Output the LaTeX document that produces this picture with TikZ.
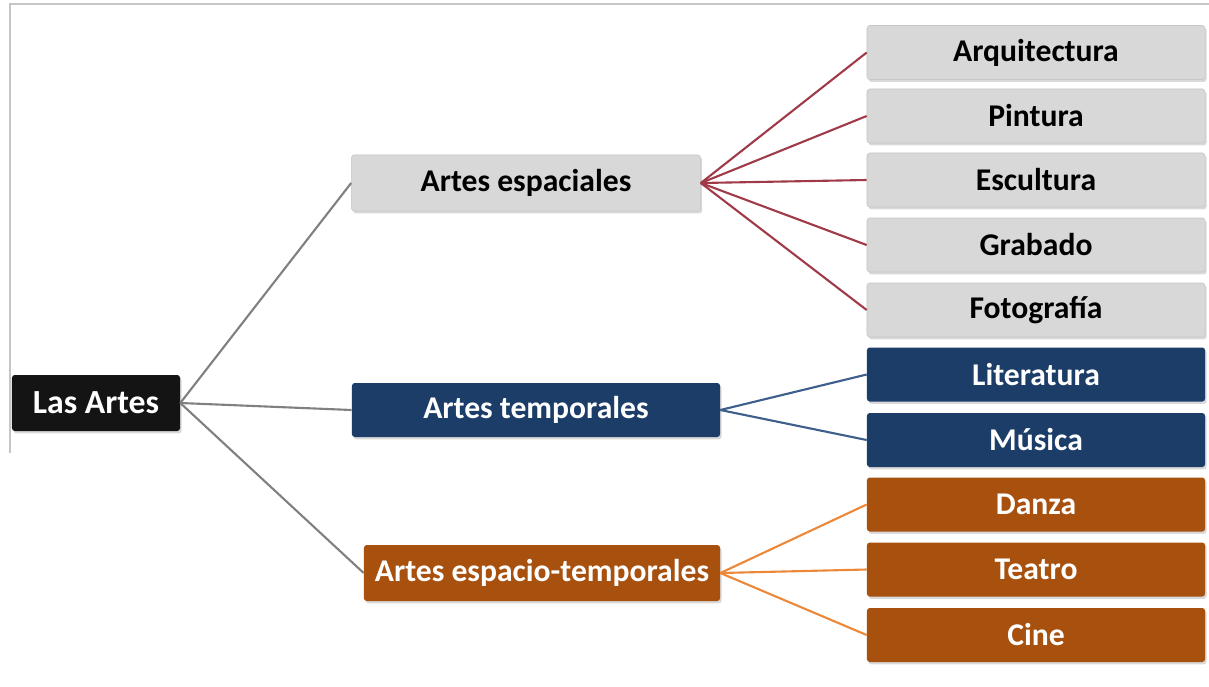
\documentclass[tikz,border=0pt]{standalone}
\usepackage{fontspec}
\setmainfont{Carlito}
\usetikzlibrary{shapes,shadows}

\definecolor{boxgrey}{RGB}{216,216,216}
\definecolor{boxblue}{RGB}{28,61,104}
\definecolor{boxorange}{RGB}{168,80,14}
\definecolor{boxblack}{RGB}{20,20,20}
\definecolor{linered}{RGB}{160,58,72}
\definecolor{lineblue}{RGB}{62,94,140}
\definecolor{lineorange}{RGB}{236,136,56}
\definecolor{linegrey}{RGB}{128,128,128}

\tikzset{
  box/.style={rectangle, rounded corners=2pt, inner sep=0pt,
    font=\fontsize{22.5}{26}\selectfont\bfseries,
    drop shadow={shadow xshift=0.4mm, shadow yshift=-0.6mm, opacity=0.3}},
  rootbox/.style={box, fill=boxblack, text=white, font=\fontsize{24}{28}\selectfont\bfseries,
    minimum width=4.2cm, minimum height=1.4cm},
  greybox/.style={box, fill=boxgrey, draw=gray!45, text=black},
  bluebox/.style={box, fill=boxblue, text=white},
  orangebox/.style={box, fill=boxorange, text=white},
  leaf/.style={minimum width=8.45cm, minimum height=1.35cm},
  trunk/.style={linegrey, line width=1.5pt},
}

\begin{document}
\begin{tikzpicture}[x=0.025cm, y=-0.025cm]

  \useasboundingbox (0,0) rectangle (1209,686);
  \draw[gray!45, line width=0.8pt] (1209,4) -- (10,4) -- (10,453);

  \draw (96,403) node (artes) [rootbox] {Las Artes};

  \draw (526,183) node (espaciales) [greybox, minimum width=8.725cm, minimum height=1.4cm] {Artes espaciales};
  \draw (536,410) node (temporales) [bluebox, minimum width=9.2cm, minimum height=1.35cm] {Artes temporales};
  \draw (542,573) node (espaciotemp) [orangebox, minimum width=8.9cm, minimum height=1.4cm] {Artes espacio-temporales};

  \draw (1036,52.5) node (arquitectura) [greybox, leaf] {Arquitectura};
  \draw (1036,116) node (pintura) [greybox, leaf] {Pintura};
  \draw (1036,180) node (escultura) [greybox, leaf] {Escultura};
  \draw (1036,245) node (grabado) [greybox, leaf] {Grabado};
  \draw (1036,310) node (fotografia) [greybox, leaf] {Fotografía};

  \draw (1036,374.5) node (literatura) [bluebox, leaf] {Literatura};
  \draw (1036,440) node (musica) [bluebox, leaf] {Música};

  \draw (1036,504.5) node (danza) [orangebox, leaf] {Danza};
  \draw (1036,569.5) node (teatro) [orangebox, leaf] {Teatro};
  \draw (1036,635) node (cine) [orangebox, leaf] {Cine};

  \draw[trunk] (artes.east) -- (espaciales.west);
  \draw[trunk] (artes.east) -- (temporales.west);
  \draw[trunk] (artes.east) -- (espaciotemp.west);

  \draw[linered, line width=1.5pt] (espaciales.east) -- (arquitectura.west);
  \draw[linered, line width=1.5pt] (espaciales.east) -- (pintura.west);
  \draw[linered, line width=1.5pt] (espaciales.east) -- (escultura.west);
  \draw[linered, line width=1.5pt] (espaciales.east) -- (grabado.west);
  \draw[linered, line width=1.5pt] (espaciales.east) -- (fotografia.west);

  \draw[lineblue, line width=1.5pt] (temporales.east) -- (literatura.west);
  \draw[lineblue, line width=1.5pt] (temporales.east) -- (musica.west);

  \draw[lineorange, line width=1.5pt] (espaciotemp.east) -- (danza.west);
  \draw[lineorange, line width=1.5pt] (espaciotemp.east) -- (teatro.west);
  \draw[lineorange, line width=1.5pt] (espaciotemp.east) -- (cine.west);

\end{tikzpicture}
\end{document}
